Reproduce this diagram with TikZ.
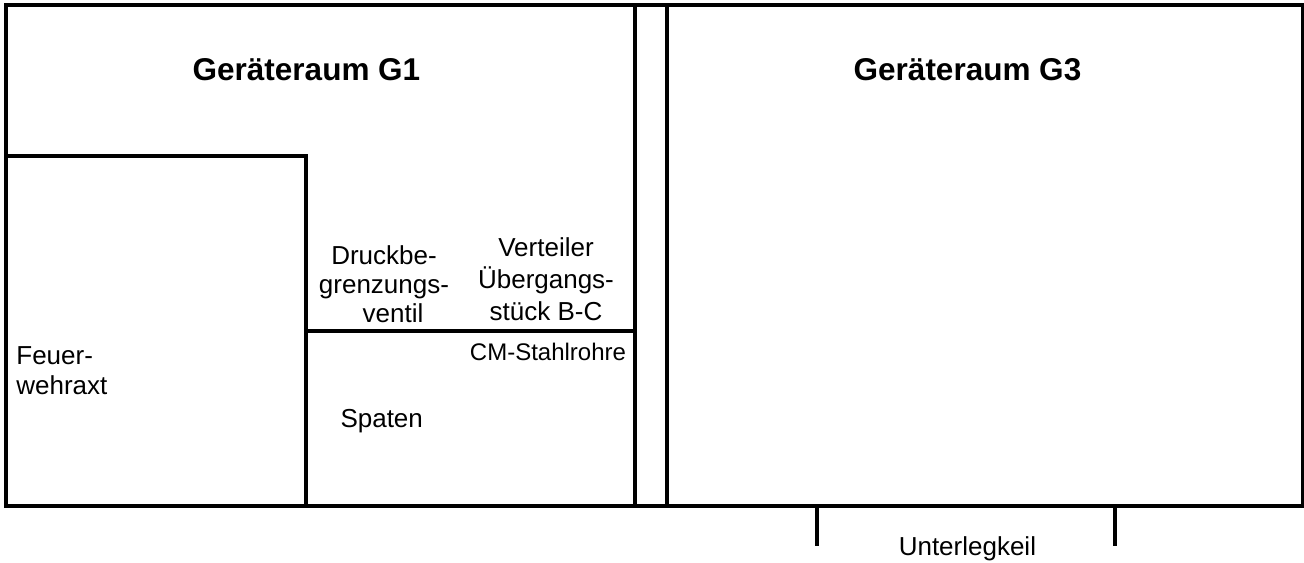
\documentclass[tikz,border=0pt]{standalone}
\usepackage{fontspec}
\setmainfont{Liberation Sans}
\begin{document}
\begin{tikzpicture}[x=0.5pt,y=-0.5pt,
  wall/.style={line width=1.6pt, line join=miter},
  lbl/.style={inner sep=0pt, anchor=base, font=\fontsize{13pt}{15pt}\selectfont},
  smalllbl/.style={lbl, font=\fontsize{12pt}{14pt}\selectfont},
  roomtitle/.style={lbl, font=\fontsize{15.75pt}{18pt}\selectfont\bfseries}]
\useasboundingbox (0,0) rectangle (1304,562);

% corner points of the plan
\coordinate (tl) at (6,5);
\coordinate (br) at (1302.5,506);

% outer walls
\draw[wall] (tl) rectangle (br);

% double partition between the two rooms
\coordinate (wa1) at (635,5);   \coordinate (wa2) at (635,506);
\coordinate (wb1) at (667,5);   \coordinate (wb2) at (667,506);
\draw[wall] (wa1) -- (wa2);
\draw[wall] (wb1) -- (wb2);

% compartment for the axe
\coordinate (ax1) at (6,156);
\coordinate (ax2) at (306,156);
\coordinate (ax3) at (306,506);
\draw[wall] (ax1) -- (ax2) -- (ax3);

% shelf line
\coordinate (sh1) at (306,331);
\coordinate (sh2) at (635,331);
\draw[wall] (sh1) -- (sh2);

% wheel chock marks below room G3
\coordinate (k1a) at (817,506);  \coordinate (k1b) at (817,546);
\coordinate (k2a) at (1115,506); \coordinate (k2b) at (1115,546);
\draw[wall] (k1a) -- (k1b);
\draw[wall] (k2a) -- (k2b);

% labels (multi-line labels are anchored at the baseline of their last line)
\node[roomtitle] (g1) at (306.5,80) {Geräteraum G1};
\node[roomtitle] (g3) at (967.5,80) {Geräteraum G3};
\node[lbl, anchor=base west, align=left] (axt) at (16,394) {Feuer-\\wehraxt};
\node[lbl, align=center, font=\fontsize{13pt}{14.5pt}\selectfont] (dbv) at (384,322)
  {Druckbe-\\grenzungs-\\\hspace*{9pt}ventil};
\node[lbl, align=center, font=\fontsize{13pt}{16pt}\selectfont] (vtl) at (546,320)
  {Verteiler\\Übergangs-\\stück B-C};
\node[smalllbl] (cm) at (548,360) {CM-Stahlrohre};
\node[lbl] (spaten) at (381.7,427.5) {Spaten};
\node[lbl] (keil) at (967.4,555) {Unterlegkeil};
\end{tikzpicture}
\end{document}
